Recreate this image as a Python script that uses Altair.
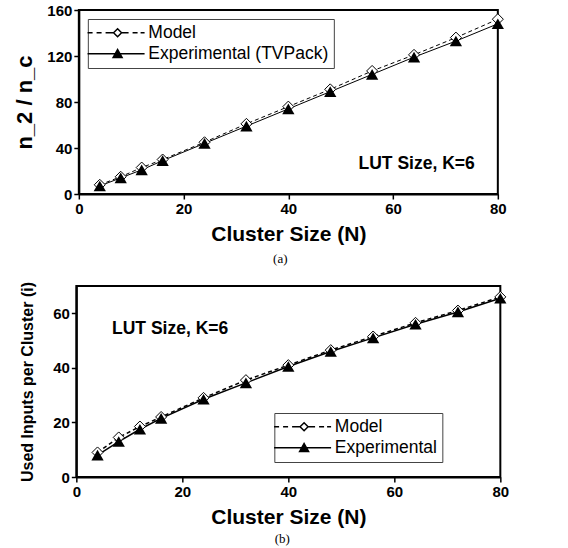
import altair as alt
import pandas as pd

# Cluster sizes N (x axis, shared by both panels)
cluster_size = [4, 8, 12, 16, 24, 32, 40, 48, 56, 64, 72, 80]

# (a) n_2 / n_c versus cluster size
ratio_model = [8, 15, 23, 30, 45, 61, 76, 91, 107, 121, 136, 152]
ratio_tvpack = [7, 14, 21, 29, 44, 59, 74, 89, 104, 119, 133, 148]
series_a = ["Model", "Experimental (TVPack)"]

# (b) used inputs per cluster versus cluster size
inputs_model = [9, 14.5, 18.5, 22, 29, 35.5, 41, 46.5, 51.5, 56.5, 61, 66]
inputs_experimental = [8, 13, 17.5, 21.5, 28.5, 34.5, 40.5, 46, 51, 56, 60.5, 65.5]
series_b = ["Model", "Experimental"]

note_text = ["LUT Size, K=6"]

FONT = "Liberation Sans"

# Legend keys: a short line sample with the marker in the middle
MODEL_KEY = ("M-6,0H-5M-4.2,0H-3.2M-2.4,0H-0.8"
             "M-0.8,0L0,-0.8L0.8,0L0,0.8Z"
             "M0.8,0H2.2M3,0H4M4.6,0H5.4")
EXP_KEY = "M-6,0H5.4M-0.9,0.75L0,-0.85L0.9,0.75Z"


def long_table(model, experimental, names):
    rows = []
    for n, v in zip(cluster_size, model):
        rows.append({"N": n, "value": v, "series": names[0]})
    for n, v in zip(cluster_size, experimental):
        rows.append({"N": n, "value": v, "series": names[1]})
    return pd.DataFrame(rows)


def panel(df, names, y_title, y_title_size, y_title_pad, y_max, tick_step,
          label_step, width, height, legend_x, legend_y, note_x, note_y,
          caption, caption_dx, caption_offset, line_width):
    x = alt.X("N:Q", scale=alt.Scale(domain=[0, 80], nice=False),
              axis=alt.Axis(values=[0, 20, 40, 60, 80], title="Cluster Size (N)",
                            titleFontSize=21, titlePadding=7, labelFlush=False))
    y = alt.Y("value:Q", scale=alt.Scale(domain=[0, y_max], nice=False),
              axis=alt.Axis(values=list(range(0, y_max + 1, tick_step)),
                            labelExpr=f"datum.value % {label_step} === 0 ? datum.label : ''",
                            title=y_title, titleFontSize=y_title_size,
                            titlePadding=y_title_pad, labelOverlap=False))
    model_rows = alt.Chart(df).transform_filter(alt.datum.series == names[0])
    exp_rows = alt.Chart(df).transform_filter(alt.datum.series == names[1])

    model_line = model_rows.mark_line(color="black", strokeWidth=line_width,
                                      strokeDash=[4, 3]).encode(x=x, y=y)
    exp_line = exp_rows.mark_line(color="black", strokeWidth=line_width).encode(x=x, y=y)
    diamonds = model_rows.mark_point(
        shape="diamond", size=121, filled=True, fill="white", stroke="black",
        strokeWidth=1, opacity=1).encode(x=x, y=y)
    triangles = exp_rows.mark_point(
        shape="triangle-up", size=150, filled=True, color="black",
        opacity=1).encode(x=x, y=y)

    legend = alt.Legend(title=None, orient="none", legendX=legend_x, legendY=legend_y,
                        labelFont=FONT, labelFontSize=17.5, labelColor="black",
                        labelLimit=400, padding=5, rowPadding=2,
                        strokeColor="#444444", fillColor="white",
                        symbolOffset=16, labelOffset=22)
    key = alt.Chart(df).transform_filter("false").mark_point(
        size=64, opacity=1, filled=False, color="black", strokeWidth=1).encode(
        shape=alt.Shape("series:N", scale=alt.Scale(domain=names, range=[MODEL_KEY, EXP_KEY]),
                        legend=legend),
        fill=alt.Fill("series:N", scale=alt.Scale(domain=names, range=["white", "black"]),
                      legend=legend),
    )

    note = alt.Chart(pd.DataFrame({"note": note_text})).mark_text(
        font=FONT, fontWeight="bold", fontSize=17.5, color="black", align="center",
        baseline="middle").encode(
        x=alt.datum(note_x), y=alt.datum(note_y), text="note:N")

    return alt.layer(model_line, exp_line, diamonds, triangles, key, note).properties(
        width=width, height=height,
        title=alt.TitleParams(caption, orient="bottom", anchor="middle", frame="group",
                              font="Liberation Serif", fontSize=13, fontWeight="normal",
                              color="black", offset=caption_offset, dx=caption_dx),
    )


top = panel(long_table(ratio_model, ratio_tvpack, series_a), series_a,
            "n_2 / n_c", 22, 10, 160, 20, 40, 419, 184, 9, 9, 64.5, 26,
            "(a)", -8, 9, 1)
bottom = panel(long_table(inputs_model, inputs_experimental, series_b), series_b,
               "Used Inputs per Cluster (i)", 16, 17, 70, 10, 20, 424, 191, 198, 127,
               17.7, 54.2, "(b)", -6, 6, 1.5)

chart = alt.concat(top, bottom, columns=1, center=True, spacing=13).resolve_scale(
    shape="independent", fill="independent"
).resolve_legend(
    shape="independent", fill="independent"
).properties(
    padding={"left": 12, "top": 2, "right": 10, "bottom": 0},
    background="white",
).configure_view(
    stroke="black", strokeWidth=2
).configure_axis(
    domainColor="black", domainWidth=2, tickColor="black", tickWidth=1.5,
    tickSize=5, labelPadding=2, labelFont=FONT, labelFontSize=15,
    labelFontWeight="bold", labelColor="black", titleFont=FONT,
    titleFontWeight="bold", titleColor="black", grid=False,
)

chart.save("out.html", embed_options={"renderer": "svg", "actions": False})
